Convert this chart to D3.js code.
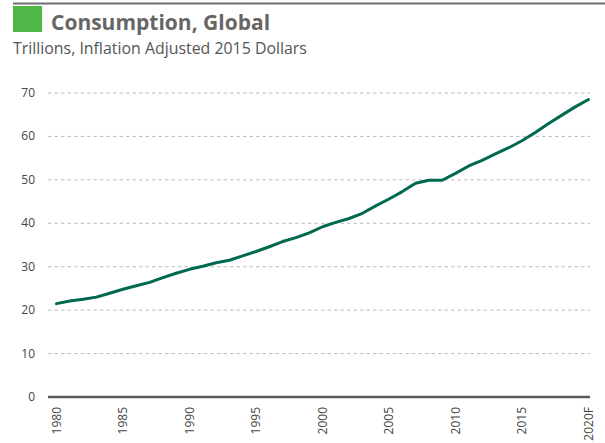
<!DOCTYPE html>
<html>
<head>
<meta charset="utf-8">
<script src="https://cdn.jsdelivr.net/npm/d3@7"></script>
<style>
  body { margin: 0; background: #fff; }
  svg { display: block; font-family: "Open Sans", "Noto Sans", sans-serif; }
</style>
</head>
<body>
<div id="chart"></div>
<script>
const years = d3.range(1980, 2021);
const consumption = [
  21.5, 22.1, 22.5, 23.0, 23.9, 24.8, 25.6, 26.4, 27.5, 28.5,
  29.4, 30.1, 30.9, 31.5, 32.5, 33.5, 34.6, 35.8, 36.7, 37.8,
  39.2, 40.2, 41.1, 42.3, 44.0, 45.6, 47.3, 49.2, 49.9, 49.9,
  51.5, 53.2, 54.5, 56.0, 57.4, 59.0, 60.9, 63.0, 64.9, 66.8, 68.5
];
const yTicks = [0, 10, 20, 30, 40, 50, 60, 70];
const xTicks = [1980, 1985, 1990, 1995, 2000, 2005, 2010, 2015, 2020];
const xLabel = d => d === 2020 ? '2020F' : String(d);

const width = 605, height = 443;

const svg = d3.select('#chart').append('svg')
  .attr('width', width)
  .attr('height', height);

// header
svg.append('rect')
  .attr('x', 13).attr('y', 2.5)
  .attr('width', width - 13).attr('height', 2)
  .attr('fill', '#6d6e71');

svg.append('rect')
  .attr('x', 13).attr('y', 6)
  .attr('width', 29).attr('height', 26)
  .attr('fill', '#4fb848');

svg.append('text')
  .attr('x', 51).attr('y', 30)
  .attr('font-size', 21).attr('font-weight', 'bold')
  .attr('fill', '#666')
  .text('Consumption, Global');

svg.append('text')
  .attr('x', 13).attr('y', 54)
  .attr('font-size', 15.9)
  .attr('fill', '#555')
  .text('Trillions, Inflation Adjusted 2015 Dollars');

const x = d3.scaleLinear()
  .domain([1980, 2020])
  .range([56.5, 588.5]);

const y = d3.scaleLinear()
  .domain([0, 70])
  .range([397, 93]);

const left = 48, right = 590;

// gridlines
svg.append('g')
  .selectAll('line')
  .data(yTicks.filter(d => d > 0))
  .enter()
  .append('line')
  .attr('x1', left).attr('x2', right)
  .attr('y1', d => y(d)).attr('y2', d => y(d))
  .attr('stroke', '#bcbcbc')
  .attr('stroke-width', 1)
  .attr('stroke-dasharray', '3.5,3');

// y labels
svg.append('g')
  .selectAll('text')
  .data(yTicks)
  .enter()
  .append('text')
  .attr('x', 35)
  .attr('y', d => y(d) + 4)
  .attr('text-anchor', 'end')
  .attr('font-size', 12)
  .attr('fill', '#444')
  .text(d => d);

// baseline
svg.append('line')
  .attr('x1', left).attr('x2', right)
  .attr('y1', y(0)).attr('y2', y(0))
  .attr('stroke', '#58595b')
  .attr('stroke-width', 2.5);

// x labels
svg.append('g')
  .selectAll('text')
  .data(xTicks)
  .enter()
  .append('text')
  .attr('transform', d => `translate(${x(d) + 4},407) rotate(-90)`)
  .attr('text-anchor', 'end')
  .attr('font-size', 12)
  .attr('fill', '#444')
  .text(xLabel);

// line
const line = d3.line()
  .x((d, i) => x(years[i]))
  .y(d => y(d));

svg.append('path')
  .datum(consumption)
  .attr('d', line)
  .attr('fill', 'none')
  .attr('stroke', '#00694f')
  .attr('stroke-width', 3)
  .attr('stroke-linejoin', 'round')
  .attr('stroke-linecap', 'round');
</script>
</body>
</html>
